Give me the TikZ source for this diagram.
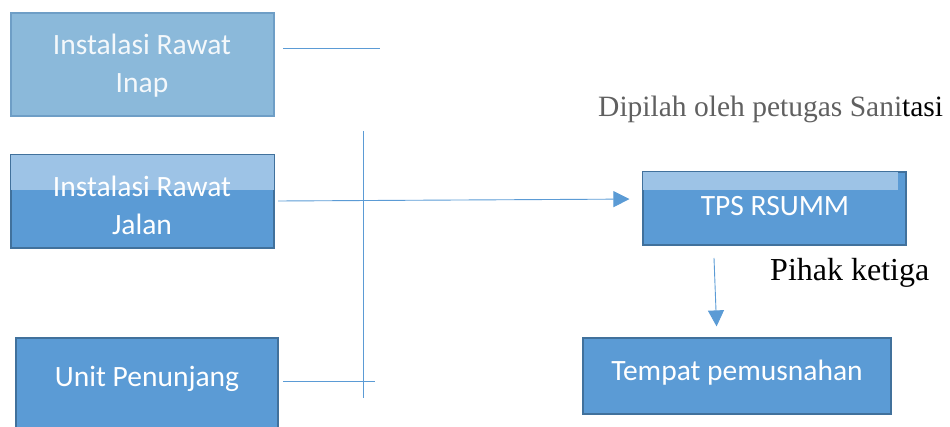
\documentclass[tikz,border=0pt]{standalone}
\usepackage{fontspec}
\setmainfont{Liberation Serif}
\newfontfamily\boxfont{Carlito}
\usetikzlibrary{arrows.meta}

\definecolor{boxblue}{HTML}{5B9BD5}
\definecolor{boxedge}{HTML}{41719C}
\definecolor{paleblue}{HTML}{8BB9DA}
\definecolor{paleedge}{HTML}{6E9EC6}
\definecolor{stripblue}{HTML}{9DC3E6}
\definecolor{linkblue}{HTML}{5B9BD5}
\definecolor{labelgray}{HTML}{606060}

\tikzset{
  x=1pt, y=-1pt,
  flowbox/.style={draw=boxedge, line width=1.2pt, fill=boxblue, inner sep=0pt},
  boxtext/.style={font=\boxfont\fontsize{29.5}{36}\selectfont, text=white, anchor=base, inner sep=0pt},
  link/.style={draw=linkblue, line width=0.9pt},
  linkarrow/.style={link, -{Triangle[length=16pt, width=16pt]}},
  annot/.style={font=\fontsize{29.5}{34}\selectfont, anchor=base west, inner sep=0pt}
}

\begin{document}
\begin{tikzpicture}
\useasboundingbox (0,0) rectangle (950,427);
\clip (0,0) rectangle (950,427);

% source units on the left
\node[flowbox, draw=paleedge, fill=paleblue,
  minimum width=263pt, minimum height=103pt] (inap) at (142.5,64.5) {};
\node[boxtext, text=white!90!paleblue] at (142,55) {Instalasi Rawat};
\node[boxtext, text=white!90!paleblue] at (142,93) {Inap};

\node[flowbox, minimum width=263pt, minimum height=93pt] (jalan) at (142.5,201.5) {};
\fill[stripblue] ([xshift=0.6pt,yshift=-0.6pt]jalan.north west) rectangle ([xshift=-0.6pt]jalan.east |- 0,190);
\node[boxtext] at (142,197) {Instalasi Rawat};
\node[boxtext] at (142,235) {Jalan};

\node[flowbox, minimum width=262pt, minimum height=110pt] (penunjang) at (147,393) {};
\node[boxtext] at (147,386) {Unit Penunjang};

% destinations on the right
\node[flowbox, minimum width=263pt, minimum height=73pt] (tps) at (774.5,208.5) {};
\fill[stripblue] ([xshift=0.6pt,yshift=-0.6pt]tps.north west) rectangle (898,190);
\node[boxtext] at (775,216) {TPS RSUMM};

\node[flowbox, minimum width=308pt, minimum height=76pt] (musnah) at (737,376) {};
\node[boxtext] at (737,380) {Tempat pemusnahan};

% collector lines
\coordinate (inapEnd) at (380,48);
\coordinate (penEnd) at (375,381);
\coordinate (busTop) at (363,131);
\coordinate (busBot) at (363,398);
\draw[link] (283,48) -- (inapEnd);
\draw[link] (283,381) -- (penEnd);
\draw[link] (busTop) -- (busBot);

% flow arrows (tips stop short of the boxes)
\draw[linkarrow, shorten >=13pt] (278,201) -- (tps.west |- 0,199);
\coordinate (down0) at (714,258);
\draw[linkarrow, shorten >=11pt] (down0) -- (musnah.north -| 717,0);

% annotations
\node[annot, text=labelgray] (pilah) at (598,117) {Dipilah oleh petugas Sani\textcolor{black}{tasi}};
\node[annot, font=\fontsize{32}{36}\selectfont] (ketiga) at (770,281) {Pihak ketiga};
\end{tikzpicture}
\end{document}
